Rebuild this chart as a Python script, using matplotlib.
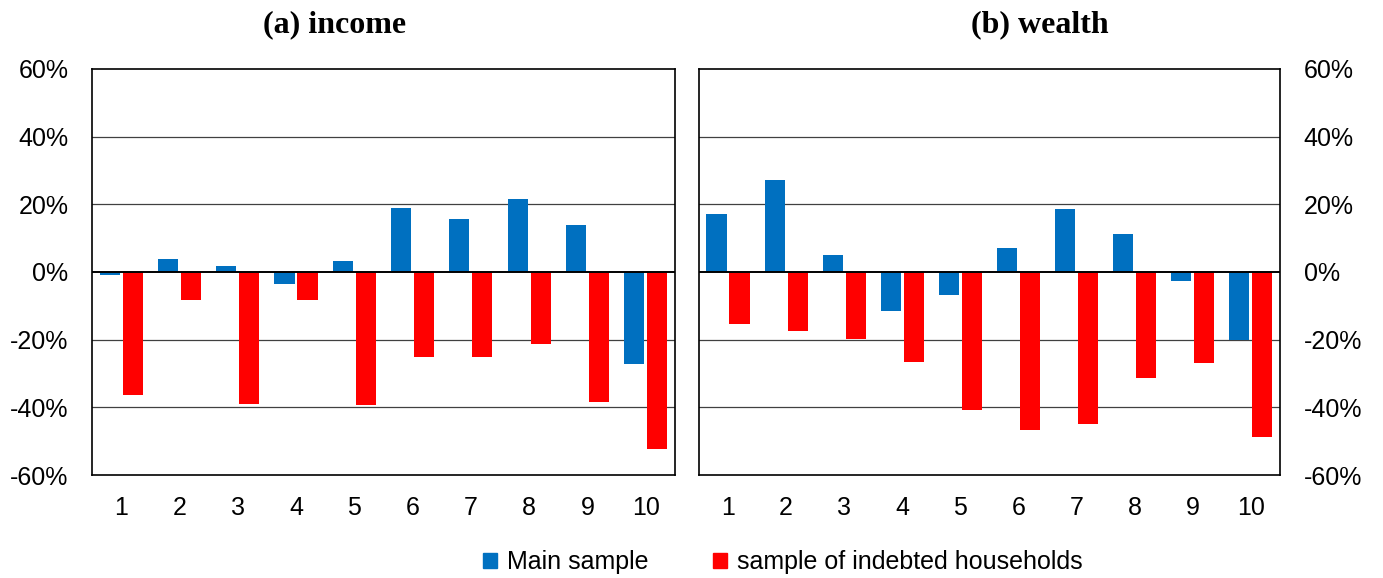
import matplotlib
matplotlib.use("Agg")
import matplotlib.pyplot as plt
import numpy as np
from matplotlib.ticker import PercentFormatter
from matplotlib.patches import Patch

categories = ["1", "2", "3", "4", "5", "6", "7", "8", "9", "10"]
income_main = [-0.8, 3.8, 1.9, -3.7, 3.1, 19.0, 15.5, 21.4, 14.0, -27.3]
income_indebted = [-36.3, -8.2, -38.9, -8.2, -39.2, -25.1, -25.1, -21.2, -38.5, -52.2]
wealth_main = [17.2, 27.3, 5.0, -11.5, -6.8, 7.0, 18.5, 11.1, -2.6, -20.2]
wealth_indebted = [-15.5, -17.5, -19.9, -26.5, -40.8, -46.7, -45.0, -31.3, -26.8, -48.7]
yticks = [-60, -40, -20, 0, 20, 40, 60]
titles = ["(a) income", "(b) wealth"]
legend_labels = ["Main sample", "sample of indebted households"]

BLUE = "#0070C0"
RED = "#FF0000"

plt.rcParams['font.family'] = ['Liberation Sans', 'DejaVu Sans']
plt.rcParams['axes.unicode_minus'] = False

fig = plt.figure(figsize=(13.83, 5.78), dpi=100)
ax1 = fig.add_axes([0.0665, 0.178, 0.4215, 0.703])
ax2 = fig.add_axes([0.5054, 0.178, 0.4201, 0.703])

x = np.arange(len(categories))
w = 0.345
off = 0.198

for ax, main, ind in [(ax1, income_main, income_indebted),
                      (ax2, wealth_main, wealth_indebted)]:
    ax.bar(x - off, main, width=w, color=BLUE, zorder=3)
    ax.bar(x + off, ind, width=w, color=RED, zorder=3)
    ax.set_ylim(-60, 60)
    ax.set_xlim(-0.5, len(categories) - 0.5)
    ax.set_yticks(yticks)
    ax.yaxis.set_major_formatter(PercentFormatter(decimals=0))
    ax.set_xticks(x)
    ax.set_xticklabels(categories)
    ax.tick_params(axis='both', length=0, labelsize=18, colors='black')
    ax.tick_params(axis='x', pad=15)
    for yv in [-40, -20, 20, 40]:
        ax.axhline(yv, color='#404040', linewidth=0.9, zorder=1)
    ax.axhline(0, color='black', linewidth=1.4, zorder=4)
    for s in ax.spines.values():
        s.set_color('black')
        s.set_linewidth(1.2)

ax1.tick_params(axis='y', pad=17)
ax2.yaxis.tick_right()
ax2.tick_params(axis='y', pad=17)

for xt, t in zip([335 / 1383, 1040 / 1383], titles):
    fig.text(xt, 1 - 25 / 578, t, ha='center', va='center', fontsize=23, fontweight='bold',
             family=['Liberation Serif', 'DejaVu Serif'])

handles = [Patch(color=BLUE, label=legend_labels[0]), Patch(color=RED, label=legend_labels[1])]
fig.legend(handles=handles, loc='center', bbox_to_anchor=(0.566, 0.027), ncol=2, frameon=False,
           fontsize=18, handlelength=0.55, handleheight=0.55, handletextpad=0.4, columnspacing=2.6)

fig.savefig("out.png", dpi=100)
